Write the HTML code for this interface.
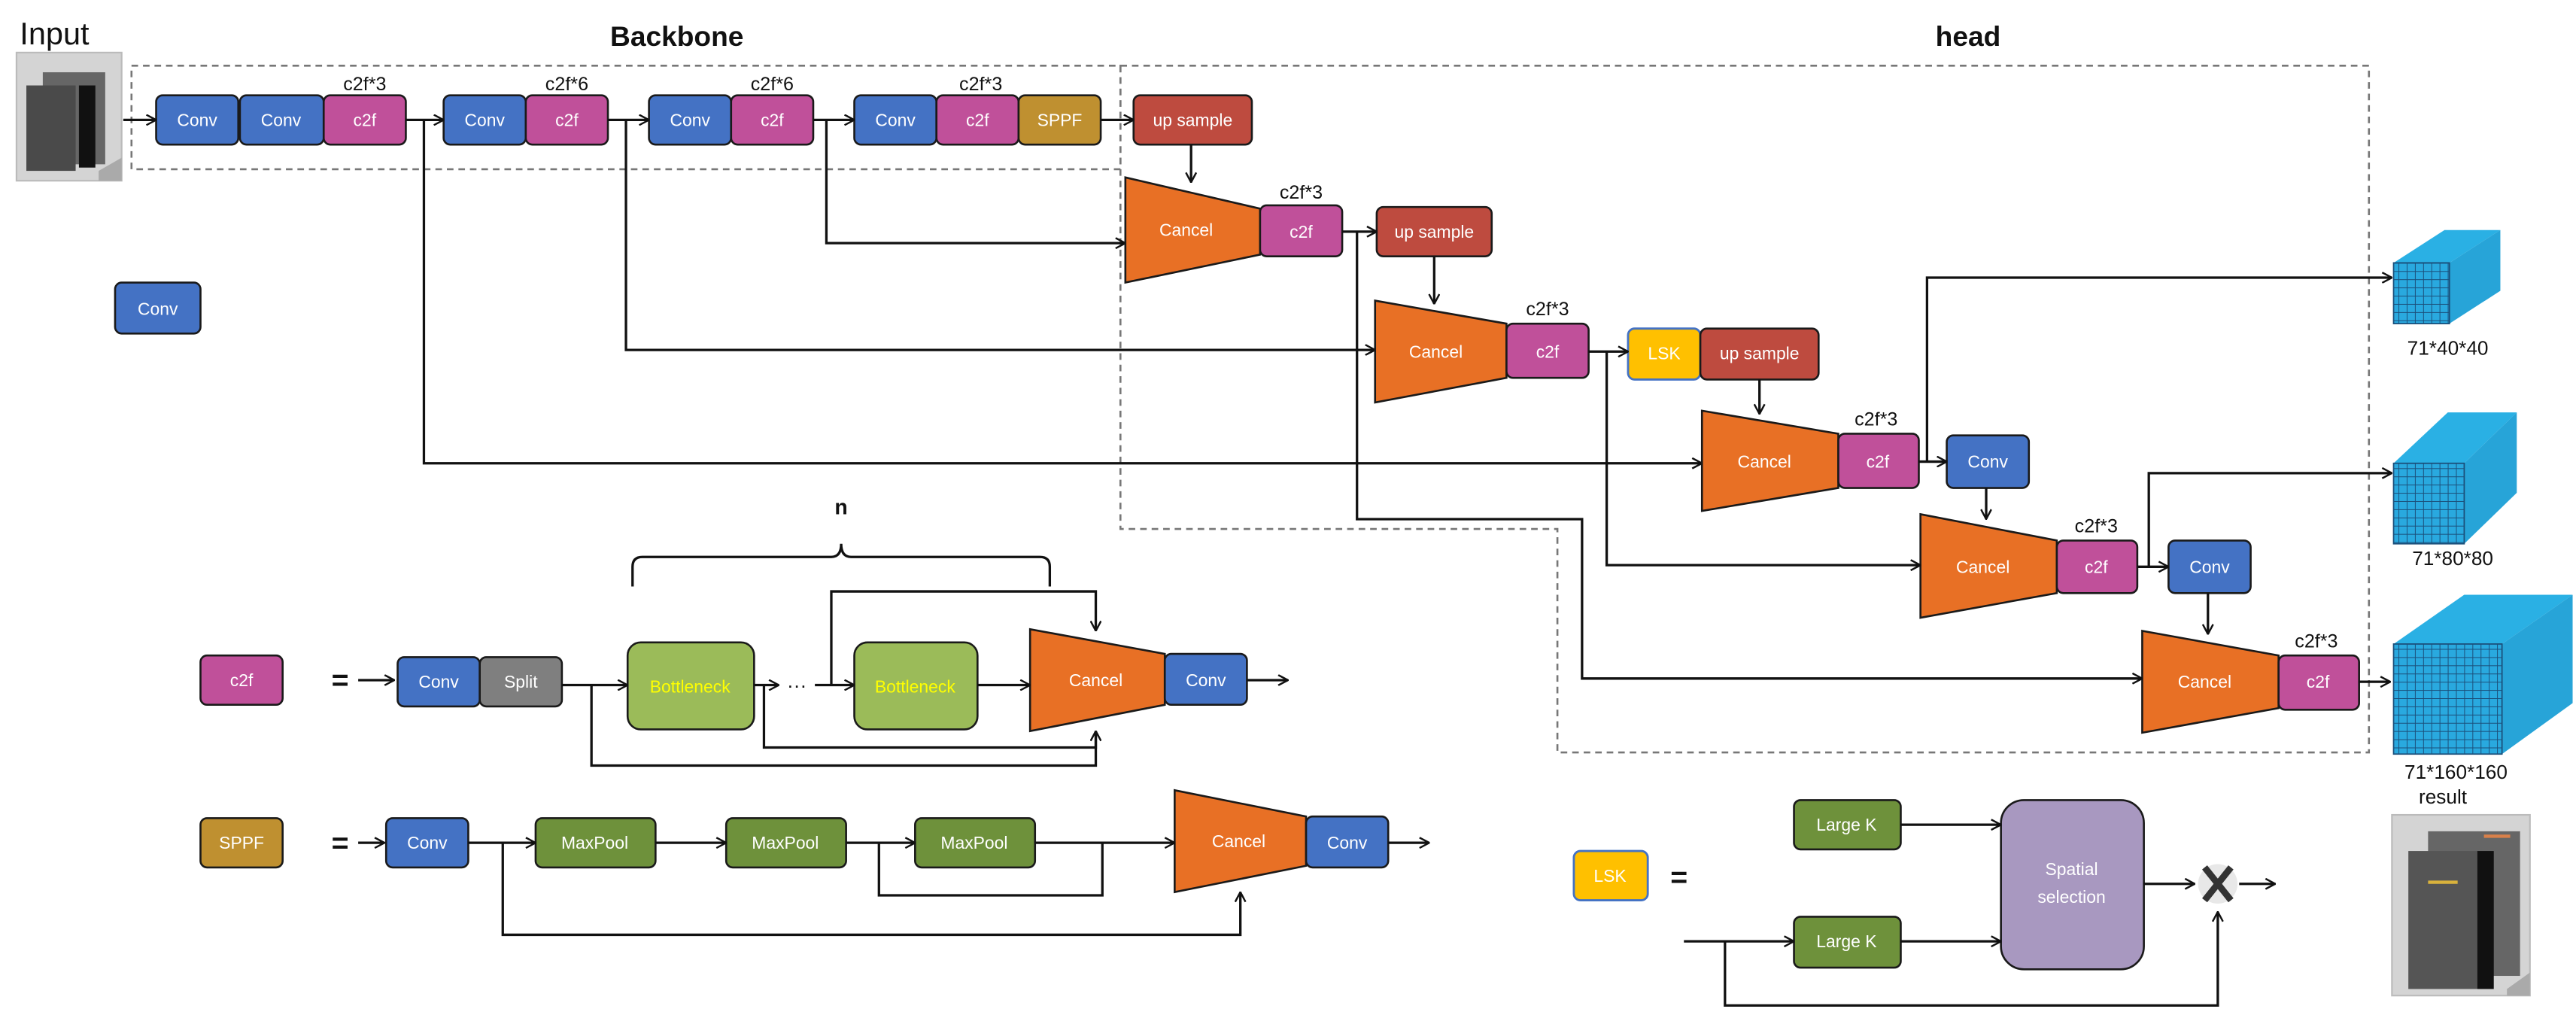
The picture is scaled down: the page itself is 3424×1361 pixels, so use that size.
<!DOCTYPE html>
<html><head><meta charset="utf-8"><style>
html,body{margin:0;padding:0;background:#fff;}
svg{display:block;}
text{font-family:"Liberation Sans",sans-serif;}
.b{stroke:#1a1a1a;stroke-width:1.2;}
.l{stroke:#111;stroke-width:1.5;fill:none;}
.t{fill:#fff;font-size:10.5px;text-anchor:middle;dominant-baseline:central;}
.lab{fill:#111;font-size:11.5px;text-anchor:middle;}
</style></head><body>
<svg width="3424" height="1361" viewBox="0 0 1568 623.3" xmlns="http://www.w3.org/2000/svg">
<defs>
<marker id="a" viewBox="0 0 10 10" refX="9.5" refY="5" markerWidth="7" markerHeight="7" orient="auto" markerUnits="userSpaceOnUse">
<path d="M1,0.5 L9.5,5 L1,9.5" fill="none" stroke="#111" stroke-width="1.6"/></marker>
<pattern id="g" width="5" height="5" patternUnits="userSpaceOnUse"><rect width="5" height="5" fill="#29a9df"/><path d="M0,0H5M0,0V5" stroke="#1b4f7a" stroke-width="0.9"/></pattern>
</defs>

<!-- titles -->
<text x="12" y="27" font-size="19" fill="#111">Input</text>
<text x="412" y="28" font-size="17" font-weight="bold" text-anchor="middle" fill="#111">Backbone</text>
<text x="1198" y="28" font-size="17" font-weight="bold" text-anchor="middle" fill="#111">head</text>

<!-- input image -->
<rect x="10" y="32" width="64" height="78" fill="#d4d4d4" stroke="#bbb"/>
<rect x="26" y="44" width="38" height="56" fill="#666"/>
<rect x="16" y="52" width="30" height="52" fill="#4a4a4a"/>
<rect x="48" y="52" width="10" height="50" fill="#111"/>
<polygon points="60,104 74,96 74,110 60,110" fill="#aaa"/>

<!-- dashed boxes -->
<rect x="80" y="40" width="602" height="63" fill="none" stroke="#777" stroke-dasharray="4,3" stroke-width="1.2"/>
<path d="M682,40 H1442 V458 H948 V322 H682 Z" fill="none" stroke="#777" stroke-dasharray="4,3" stroke-width="1.2"/>

<!-- backbone row -->
<g>
<rect class="b" x="95" y="58" width="50" height="30" rx="4" fill="#4472C4"/><text class="t" x="120" y="73">Conv</text>
<rect class="b" x="146" y="58" width="51" height="30" rx="4" fill="#4472C4"/><text class="t" x="171" y="73">Conv</text>
<rect class="b" x="197" y="58" width="50" height="30" rx="4" fill="#C0509A"/><text class="t" x="222" y="73">c2f</text>
<rect class="b" x="270" y="58" width="50" height="30" rx="4" fill="#4472C4"/><text class="t" x="295" y="73">Conv</text>
<rect class="b" x="320" y="58" width="50" height="30" rx="4" fill="#C0509A"/><text class="t" x="345" y="73">c2f</text>
<rect class="b" x="395" y="58" width="50" height="30" rx="4" fill="#4472C4"/><text class="t" x="420" y="73">Conv</text>
<rect class="b" x="445" y="58" width="50" height="30" rx="4" fill="#C0509A"/><text class="t" x="470" y="73">c2f</text>
<rect class="b" x="520" y="58" width="50" height="30" rx="4" fill="#4472C4"/><text class="t" x="545" y="73">Conv</text>
<rect class="b" x="570" y="58" width="50" height="30" rx="4" fill="#C0509A"/><text class="t" x="595" y="73">c2f</text>
<rect class="b" x="620" y="58" width="50" height="30" rx="4" fill="#BF9030"/><text class="t" x="645" y="73">SPPF</text>
<rect class="b" x="690" y="58" width="72" height="30" rx="4" fill="#BE4B3F"/><text class="t" x="726" y="73">up sample</text>
<text class="lab" x="222" y="55">c2f*3</text>
<text class="lab" x="345" y="55">c2f*6</text>
<text class="lab" x="470" y="55">c2f*6</text>
<text class="lab" x="597" y="55">c2f*3</text>
</g>
<path class="l" d="M75,73 H95" marker-end="url(#a)"/>
<path class="l" d="M247,73 H270" marker-end="url(#a)"/>
<path class="l" d="M370,73 H395" marker-end="url(#a)"/>
<path class="l" d="M495,73 H520" marker-end="url(#a)"/>
<path class="l" d="M670,73 H690" marker-end="url(#a)"/>

<!-- branch lines -->
<path class="l" d="M258,73 V282 H1036" marker-end="url(#a)"/>
<path class="l" d="M381,73 V213 H837" marker-end="url(#a)"/>
<path class="l" d="M503,73 V148 H685" marker-end="url(#a)"/>
<path class="l" d="M725,88 V111" marker-end="url(#a)"/>

<!-- legend conv -->
<rect class="b" x="70" y="172" width="52" height="31" rx="4" fill="#4472C4"/><text class="t" x="96" y="188">Conv</text>

<!-- head -->
<polygon class="b" points="685,108 767,127 767,155 685,172" fill="#E87025"/><text class="t" x="722" y="140">Cancel</text>
<rect class="b" x="767" y="125" width="50" height="31" rx="4" fill="#C0509A"/><text class="t" x="792" y="141">c2f</text>
<text class="lab" x="792" y="121">c2f*3</text>
<rect class="b" x="838" y="126" width="70" height="30" rx="4" fill="#BE4B3F"/><text class="t" x="873" y="141">up sample</text>
<path class="l" d="M817,141 H838" marker-end="url(#a)"/>
<path class="l" d="M873,156 V185" marker-end="url(#a)"/>

<polygon class="b" points="837,183 917,197 917,230 837,245" fill="#E87025"/><text class="t" x="874" y="214">Cancel</text>
<rect class="b" x="917" y="197" width="50" height="33" rx="4" fill="#C0509A"/><text class="t" x="942" y="214">c2f</text>
<text class="lab" x="942" y="192">c2f*3</text>
<rect x="991" y="200" width="44" height="31" rx="4" fill="#FFC000" stroke="#4472C4" stroke-width="1.3"/><text class="t" x="1013" y="215">LSK</text>
<rect class="b" x="1035" y="200" width="72" height="31" rx="4" fill="#BE4B3F"/><text class="t" x="1071" y="215">up sample</text>
<path class="l" d="M967,214 H991" marker-end="url(#a)"/>
<path class="l" d="M1071,231 V252" marker-end="url(#a)"/>

<polygon class="b" points="1036,250 1119,264 1119,297 1036,311" fill="#E87025"/><text class="t" x="1074" y="281">Cancel</text>
<rect class="b" x="1119" y="264" width="49" height="33" rx="4" fill="#C0509A"/><text class="t" x="1143" y="281">c2f</text>
<text class="lab" x="1142" y="259">c2f*3</text>
<rect class="b" x="1185" y="265" width="50" height="32" rx="4" fill="#4472C4"/><text class="t" x="1210" y="281">Conv</text>
<path class="l" d="M1168,281 H1185" marker-end="url(#a)"/>
<path class="l" d="M1209,297 V316" marker-end="url(#a)"/>

<polygon class="b" points="1169,313 1252,329 1252,361 1169,376" fill="#E87025"/><text class="t" x="1207" y="345">Cancel</text>
<rect class="b" x="1252" y="329" width="49" height="32" rx="4" fill="#C0509A"/><text class="t" x="1276" y="345">c2f</text>
<text class="lab" x="1276" y="324">c2f*3</text>
<rect class="b" x="1320" y="329" width="50" height="32" rx="4" fill="#4472C4"/><text class="t" x="1345" y="345">Conv</text>
<path class="l" d="M1301,345 H1320" marker-end="url(#a)"/>
<path class="l" d="M1344,361 V386" marker-end="url(#a)"/>

<polygon class="b" points="1304,384 1387,399 1387,431 1304,446" fill="#E87025"/><text class="t" x="1342" y="415">Cancel</text>
<rect class="b" x="1387" y="399" width="49" height="33" rx="4" fill="#C0509A"/><text class="t" x="1411" y="415">c2f</text>
<text class="lab" x="1410" y="394">c2f*3</text>
<path class="l" d="M1436,415 H1455" marker-end="url(#a)"/>

<path class="l" d="M826,141 V316 H963 V413 H1304" marker-end="url(#a)"/>
<path class="l" d="M978,214 V344 H1169" marker-end="url(#a)"/>
<path class="l" d="M1173,281 V169 H1456" marker-end="url(#a)"/>
<path class="l" d="M1308,345 V288 H1456" marker-end="url(#a)"/>

<!-- cubes -->
<g>
<polygon points="1457,160 1488,140 1522,140 1491,160" fill="#2ab0e4"/>
<polygon points="1491,160 1522,140 1522,177 1491,197" fill="#27a4d8"/>
<rect x="1457" y="160" width="34" height="37" fill="url(#g)" stroke="#1b4f7a" stroke-width="0.8"/>
<text x="1490" y="216" font-size="12" text-anchor="middle" fill="#111">71*40*40</text>
<polygon points="1457,282 1490,251 1532,251 1500,282" fill="#2ab0e4"/>
<polygon points="1500,282 1532,251 1532,300 1500,331" fill="#27a4d8"/>
<rect x="1457" y="282" width="43" height="49" fill="url(#g)" stroke="#1b4f7a" stroke-width="0.8"/>
<text x="1493" y="344" font-size="12" text-anchor="middle" fill="#111">71*80*80</text>
<polygon points="1457,392 1500,362 1566,362 1523,392" fill="#2ab0e4"/>
<polygon points="1523,392 1566,362 1566,428 1523,459" fill="#27a4d8"/>
<rect x="1457" y="392" width="66" height="67" fill="url(#g)" stroke="#1b4f7a" stroke-width="0.8"/>
<text x="1495" y="474" font-size="12" text-anchor="middle" fill="#111">71*160*160</text>
<text x="1487" y="489" font-size="12" text-anchor="middle" fill="#111">result</text>
<rect x="1456" y="496" width="84" height="110" fill="#d4d4d4" stroke="#bbb"/>
<rect x="1478" y="506" width="56" height="88" fill="#666"/>
<rect x="1466" y="518" width="50" height="84" fill="#555"/>
<rect x="1508" y="518" width="10" height="84" fill="#111"/>
<rect x="1478" y="536" width="18" height="2" fill="#d9b23c"/>
<rect x="1512" y="508" width="16" height="2" fill="#d9804a"/>
<polygon points="1526,602 1540,592 1540,606 1526,606" fill="#aaa"/>
</g>

<!-- c2f legend -->
<rect class="b" x="122" y="399" width="50" height="30" rx="4" fill="#C0509A"/><text class="t" x="147" y="414">c2f</text>
<text x="207" y="420" font-size="18" font-weight="bold" text-anchor="middle" fill="#111">=</text>
<path class="l" d="M218,414 H240" marker-end="url(#a)"/>
<rect class="b" x="242" y="400" width="50" height="30" rx="4" fill="#4472C4"/><text class="t" x="267" y="415">Conv</text>
<rect class="b" x="292" y="400" width="50" height="30" rx="4" fill="#7F7F7F"/><text class="t" x="317" y="415">Split</text>
<rect class="b" x="382" y="391" width="77" height="53" rx="8" fill="#9BBB59"/><text class="t" x="420" y="418" style="fill:#ffff00">Bottleneck</text>
<rect class="b" x="520" y="391" width="75" height="53" rx="8" fill="#9BBB59"/><text class="t" x="557" y="418" style="fill:#ffff00">Bottleneck</text>
<text x="485" y="421" font-size="12" text-anchor="middle" fill="#111">···</text>
<polygon class="b" points="627,383 709,398 709,429 627,445" fill="#E87025"/><text class="t" x="667" y="414">Cancel</text>
<rect class="b" x="709" y="398" width="50" height="31" rx="4" fill="#4472C4"/><text class="t" x="734" y="414">Conv</text>
<path class="l" d="M342,417 H382" marker-end="url(#a)"/>
<path class="l" d="M459,417 H474" marker-end="url(#a)"/>
<path class="l" d="M496,417 H520" marker-end="url(#a)"/>
<path class="l" d="M595,417 H627" marker-end="url(#a)"/>
<path class="l" d="M759,414 H784" marker-end="url(#a)"/>
<path class="l" d="M506,417 V360 H667 V384" marker-end="url(#a)"/>
<path class="l" d="M465,417 V455 H667 V445" marker-end="url(#a)"/>
<path class="l" d="M360,417 V466 H667 V445"/>
<path class="l" d="M385,357 V345 Q385,339 391,339 H506 Q512,339 512,331 Q512,339 518,339 H633 Q639,339 639,345 V357"/>
<text x="512" y="313" font-size="13" font-weight="bold" text-anchor="middle" fill="#111">n</text>

<!-- SPPF legend -->
<rect class="b" x="122" y="498" width="50" height="30" rx="4" fill="#BF9030"/><text class="t" x="147" y="513">SPPF</text>
<text x="207" y="519" font-size="18" font-weight="bold" text-anchor="middle" fill="#111">=</text>
<path class="l" d="M218,513 H234" marker-end="url(#a)"/>
<rect class="b" x="235" y="498" width="50" height="30" rx="4" fill="#4472C4"/><text class="t" x="260" y="513">Conv</text>
<rect class="b" x="326" y="498" width="73" height="30" rx="4" fill="#6E913B"/><text class="t" x="362" y="513">MaxPool</text>
<rect class="b" x="442" y="498" width="73" height="30" rx="4" fill="#6E913B"/><text class="t" x="478" y="513">MaxPool</text>
<rect class="b" x="557" y="498" width="73" height="30" rx="4" fill="#6E913B"/><text class="t" x="593" y="513">MaxPool</text>
<polygon class="b" points="715,481 795,497 795,527 715,543" fill="#E87025"/><text class="t" x="754" y="512">Cancel</text>
<rect class="b" x="795" y="497" width="50" height="31" rx="4" fill="#4472C4"/><text class="t" x="820" y="513">Conv</text>
<path class="l" d="M285,513 H326" marker-end="url(#a)"/>
<path class="l" d="M399,513 H442" marker-end="url(#a)"/>
<path class="l" d="M515,513 H557" marker-end="url(#a)"/>
<path class="l" d="M630,513 H715" marker-end="url(#a)"/>
<path class="l" d="M845,513 H870" marker-end="url(#a)"/>
<path class="l" d="M306,513 V569 H755 V543" marker-end="url(#a)"/>
<path class="l" d="M535,513 V545 H671 V513"/>

<!-- LSK legend -->
<rect x="958" y="518" width="45" height="30" rx="4" fill="#FFC000" stroke="#4472C4" stroke-width="1.3"/><text class="t" x="980" y="533">LSK</text>
<text x="1022" y="540" font-size="18" font-weight="bold" text-anchor="middle" fill="#111">=</text>
<rect class="b" x="1092" y="487" width="65" height="30" rx="4" fill="#6E913B"/><text class="t" x="1124" y="502">Large K</text>
<rect class="b" x="1092" y="558" width="65" height="31" rx="4" fill="#6E913B"/><text class="t" x="1124" y="573">Large K</text>
<rect class="b" x="1218" y="487" width="87" height="103" rx="14" fill="#A898C0"/>
<text class="t" x="1261" y="529">Spatial</text><text class="t" x="1261" y="546">selection</text>
<path class="l" d="M1157,502 H1218" marker-end="url(#a)"/>
<path class="l" d="M1157,573 H1218" marker-end="url(#a)"/>
<path class="l" d="M1025,573 H1092" marker-end="url(#a)"/>
<path class="l" d="M1050,573 V612 H1350 V555" marker-end="url(#a)"/>
<path class="l" d="M1305,538 H1336" marker-end="url(#a)"/>
<circle cx="1350" cy="538" r="12" fill="#e8e8e8"/>
<path d="M1342,528 L1358,548 M1358,528 L1342,548" stroke="#333" stroke-width="4"/>
<path class="l" d="M1363,538 H1385" marker-end="url(#a)"/>
</svg>
</body></html>
